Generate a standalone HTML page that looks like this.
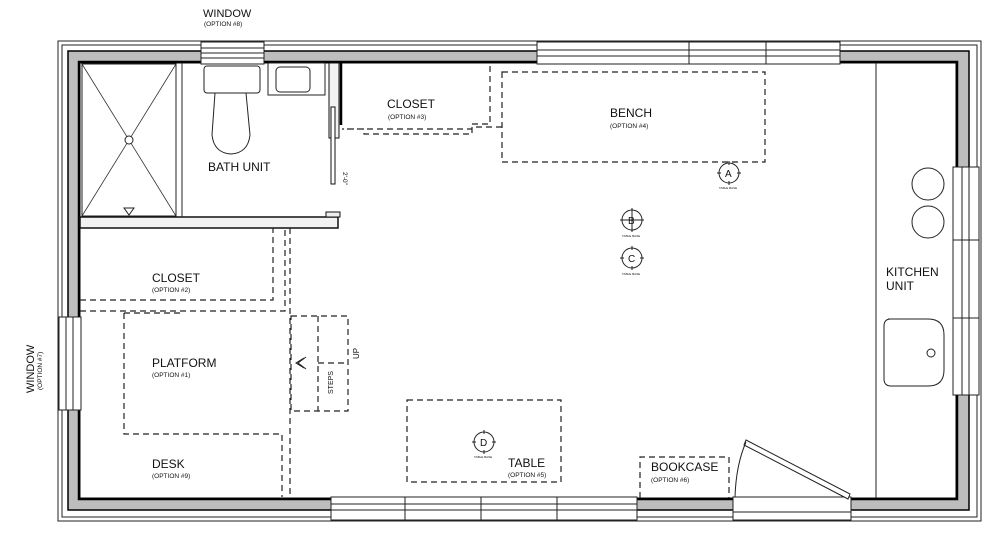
<!DOCTYPE html>
<html><head><style>
html,body{margin:0;padding:0;background:#fff}
svg{display:block}
text{font-family:"Liberation Sans",sans-serif;fill:#111}
.l{font-size:12px}
.s{font-size:6.5px}
.t{font-size:3px}
.d{fill:none;stroke:#222;stroke-width:1.2;stroke-dasharray:6,4}
.k{fill:none;stroke:#222;stroke-width:1}
</style></head><body>
<svg width="1000" height="541" viewBox="0 0 1000 541" xmlns="http://www.w3.org/2000/svg">
<rect x="58" y="41" width="923" height="480" fill="none" stroke="#222" stroke-width="1"/>
<rect x="62" y="45" width="915" height="472" fill="none" stroke="#222" stroke-width="1"/>
<path d="M68 51H969V510H68Z M80 63V498H956V63Z" fill="#bdbdbd" fill-rule="evenodd" stroke="#111" stroke-width="1"/>
<rect x="79" y="62" width="878" height="437" fill="none" stroke="#000" stroke-width="2.5"/>
<rect x="68" y="51" width="901" height="459" fill="none" stroke="#000" stroke-width="1.5"/>

<g fill="#fff" stroke="#222" stroke-width="1">
<rect x="201" y="42" width="63" height="22"/>
<line x1="201" y1="48" x2="264" y2="48"/><line x1="201" y1="53" x2="264" y2="53"/><line x1="201" y1="58" x2="264" y2="58"/>
<rect x="537" y="42" width="303" height="22"/>
<line x1="537" y1="50" x2="840" y2="50"/><line x1="537" y1="56" x2="840" y2="56"/>
<line x1="689" y1="42" x2="689" y2="64"/><line x1="766" y1="42" x2="766" y2="64"/>
<rect x="953" y="167" width="26" height="228"/>
<line x1="962" y1="167" x2="962" y2="395"/><line x1="969" y1="167" x2="969" y2="395"/>
<line x1="953" y1="240" x2="979" y2="240"/><line x1="953" y1="318" x2="979" y2="318"/>
<rect x="59" y="317" width="22" height="93"/>
<line x1="66" y1="317" x2="66" y2="410"/><line x1="73" y1="317" x2="73" y2="410"/>
<rect x="331" y="497" width="306" height="23"/>
<line x1="331" y1="504" x2="637" y2="504"/><line x1="331" y1="510" x2="637" y2="510"/>
<line x1="405" y1="497" x2="405" y2="520"/><line x1="481" y1="497" x2="481" y2="520"/><line x1="557" y1="497" x2="557" y2="520"/>
<rect x="733" y="497" width="118" height="23"/>
<line x1="733" y1="512" x2="851" y2="512"/>
</g>
<polygon points="746,440 850,494 848,499 744,445" fill="#fff" stroke="#222" stroke-width="1"/>
<path d="M746 442 Q736 465 735 497" class="k"/>

<rect x="80" y="217" width="258" height="11" fill="#f2f2f2" stroke="#111" stroke-width="1.5"/>
<rect x="326" y="212" width="14" height="5" fill="#eee" stroke="#111" stroke-width="1"/>
<rect x="329" y="63" width="10" height="75" fill="#f2f2f2" stroke="#111" stroke-width="1"/>
<line x1="341" y1="63" x2="341" y2="125" stroke="#000" stroke-width="2.5"/>
<rect x="331" y="107" width="4" height="77" fill="#fff" stroke="#111" stroke-width="1"/>
<text x="343" y="172" class="s" transform="rotate(90 343 172)">2'-0"</text>
<rect x="82" y="64" width="94" height="152" class="k"/>
<line x1="182" y1="63" x2="182" y2="217" stroke="#222"/>
<line x1="82" y1="64" x2="176" y2="216" stroke="#333" stroke-width=".8"/>
<line x1="176" y1="64" x2="82" y2="216" stroke="#333" stroke-width=".8"/>
<circle cx="129" cy="140" r="4" fill="#fff" stroke="#222"/>
<polygon points="124,208 134,208 129,215" fill="#fff" stroke="#222"/>
<rect x="204" y="66" width="56" height="27" rx="3" fill="#fff" stroke="#222"/>
<path d="M215 93 L212 135 Q214 153 231 154 Q248 153 250 135 L246 93" class="k"/>
<rect x="268" y="63" width="57" height="32" class="k"/>
<rect x="276" y="67" width="34" height="25" rx="4" class="k"/>
<line x1="876" y1="63" x2="876" y2="498" stroke="#222" stroke-width="1"/>
<circle cx="928" cy="184" r="16" class="k"/>
<circle cx="928" cy="222" r="16" class="k"/>
<path d="M888 319 H928 Q944 319 944 335 V370 Q944 386 928 386 H891 Q884 386 884 379 V326 Q884 319 891 319Z" class="k"/>
<circle cx="931" cy="353" r="4" class="k"/>

<rect x="502" y="72" width="263" height="90" class="d"/>
<path d="M490 66V124H472V129H344 M502 127H472V134H364V129H342" class="d"/>
<path d="M80 300H273V228 M80 311H285V228 M290 228V497" class="d"/>
<path d="M124 313V434H282V497 M124 313H180" class="d"/>
<rect x="291" y="316" width="57" height="95" class="d"/>
<path d="M318 316V411 M318 363H346" class="d"/>
<path d="M304 358L296 363L304 368 M306 357L298 363L306 369" class="k"/>
<rect x="407" y="400" width="154" height="82" class="d"/>
<path d="M640 498V457H729V498" class="d"/>

<g class="k">
<circle cx="729" cy="173" r="10"/><circle cx="632" cy="220" r="10"/><circle cx="632" cy="258" r="10"/><circle cx="484" cy="442" r="10"/>
<path d="M632 208V232 M620 220H644"/>
<path d="M729 161V165 M729 181V185 M717 173H721 M737 173H741"/>
<path d="M632 246V250 M632 266V270 M620 258H624 M640 258H644"/>
<path d="M484 430V434 M484 450V454 M472 442H476 M492 442H496"/>
</g>
<text x="725" y="177" class="s" style="font-size:10px">A</text>
<text x="628" y="224" class="s" style="font-size:10px">B</text>
<text x="628" y="262" class="s" style="font-size:10px">C</text>
<text x="480" y="446" class="s" style="font-size:10px">D</text>
<text x="719" y="189" class="t">TABLE BASE</text>
<text x="622" y="237" class="t">TABLE BASE</text>
<text x="622" y="275" class="t">TABLE BASE</text>
<text x="474" y="458" class="t">TABLE BASE</text>

<text x="203" y="17" class="l" style="font-size:11px">WINDOW</text>
<text x="204" y="26" class="s">(OPTION #8)</text>
<text x="208" y="171" class="l">BATH UNIT</text>
<text x="387" y="108" class="l">CLOSET</text>
<text x="388" y="119" class="s">(OPTION #3)</text>
<text x="610" y="117" class="l">BENCH</text>
<text x="610" y="128" class="s">(OPTION #4)</text>
<text x="152" y="282" class="l">CLOSET</text>
<text x="152" y="292" class="s">(OPTION #2)</text>
<text x="152" y="367" class="l">PLATFORM</text>
<text x="152" y="377" class="s">(OPTION #1)</text>
<text x="152" y="468" class="l">DESK</text>
<text x="152" y="478" class="s">(OPTION #9)</text>
<text x="508" y="467" class="l">TABLE</text>
<text x="508" y="477" class="s">(OPTION #5)</text>
<text x="651" y="471" class="l">BOOKCASE</text>
<text x="651" y="482" class="s">(OPTION #6)</text>
<text x="886" y="276" class="l">KITCHEN</text>
<text x="886" y="290" class="l">UNIT</text>
<text x="333" y="394" class="s" transform="rotate(-90 333 394)" style="font-size:7px">STEPS</text>
<text x="359" y="359" class="s" transform="rotate(-90 359 359)" style="font-size:8px">UP</text>
<text x="34" y="393" class="l" transform="rotate(-90 34 393)" style="font-size:11px">WINDOW</text>
<text x="42" y="390" class="s" transform="rotate(-90 42 390)">(OPTION #7)</text>
</svg>
</body></html>
